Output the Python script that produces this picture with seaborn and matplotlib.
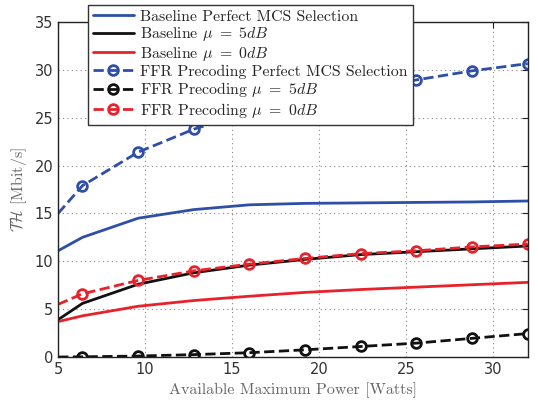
import numpy as np
import pandas as pd
import matplotlib
matplotlib.use("Agg")
import matplotlib.pyplot as plt
import seaborn as sns

power = [5, 6.4, 9.6, 12.8, 16, 19.2, 22.4, 25.6, 28.8, 32]
base_perfect = [11.1, 12.5, 14.5, 15.4, 15.9, 16.05, 16.1, 16.15, 16.2, 16.3]
base_mu5 = [3.9, 5.6, 7.6, 8.8, 9.6, 10.2, 10.7, 11.0, 11.3, 11.6]
base_mu0 = [3.7, 4.3, 5.3, 5.9, 6.35, 6.75, 7.05, 7.3, 7.55, 7.8]
ffr_perfect = [15.0, 17.9, 21.4, 23.8, 25.6, 26.9, 28.0, 28.95, 29.9, 30.65]
ffr_mu5 = [0.0, 0.02, 0.1, 0.25, 0.45, 0.75, 1.1, 1.45, 1.95, 2.45]
ffr_mu0 = [5.5, 6.6, 8.0, 9.0, 9.7, 10.3, 10.8, 11.1, 11.5, 11.8]

labels = ["Baseline Perfect MCS Selection",
          r"Baseline $\mu\ =\ 5dB$",
          r"Baseline $\mu\ =\ 0dB$",
          "FFR Precoding Perfect MCS Selection",
          r"FFR Precoding $\mu\ =\ 5dB$",
          r"FFR Precoding $\mu\ =\ 0dB$"]

sns.set_style("white")
plt.rcParams['mathtext.fontset'] = 'cm'
plt.rcParams['axes.unicode_minus'] = False

blue = "#2F4EA8"
red = "#E8222A"
black = "#111111"

fig = plt.figure(figsize=(5.38, 4.0), dpi=100)
ax = fig.add_axes([0.108, 0.1075, 0.873, 0.8375])

series = [
    (base_perfect, blue, "-", False),
    (base_mu5, black, "-", False),
    (base_mu0, red, "-", False),
    (ffr_perfect, blue, "--", True),
    (ffr_mu5, black, "--", True),
    (ffr_mu0, red, "--", True),
]
for (vals, col, ls, mk), lab in zip(series, labels):
    kw = dict(x=power, y=vals, ax=ax, color=col, linestyle=ls, linewidth=2, label=lab)
    if mk:
        kw.update(marker="o", markersize=7, markerfacecolor="none",
                  markeredgecolor=col, markeredgewidth=2, markevery=list(range(1, 10)),
                  dashes=(4, 3))
    sns.lineplot(**kw)

ax.set_xlim(5, 32)
ax.set_ylim(0, 35)
ax.set_xticks([5, 10, 15, 20, 25, 30])
ax.set_yticks([0, 5, 10, 15, 20, 25, 30, 35])
ax.grid(True, linestyle=(0, (1, 3)), color="#888888", linewidth=0.8)
ax.tick_params(direction="in", top=True, right=True, length=4, labelsize=10.5,
               labelcolor="#333333", color="#222222")
for s in ax.spines.values():
    s.set_color("#222222")
    s.set_linewidth(1.0)

ax.set_xlabel("Available Maximum Power [Watts]", family="cmr10",
              fontsize=11.5, color="#666666")
ax.set_ylabel(r"$\mathcal{TH}$ [Mbit/s]", family="cmr10",
              fontsize=11.5, color="#666666")

leg = ax.legend(loc="upper left", bbox_to_anchor=(0.064, 1.051),
                prop={"family": "cmr10", "size": 11.4},
                frameon=True, fancybox=False, framealpha=1,
                edgecolor="#333333", handlelength=2.6, borderpad=0.3,
                labelspacing=0.1, handletextpad=0.4, borderaxespad=0)
leg.get_frame().set_linewidth(1.0)
leg.set_zorder(10)

fig.savefig("out.png", dpi=100)
